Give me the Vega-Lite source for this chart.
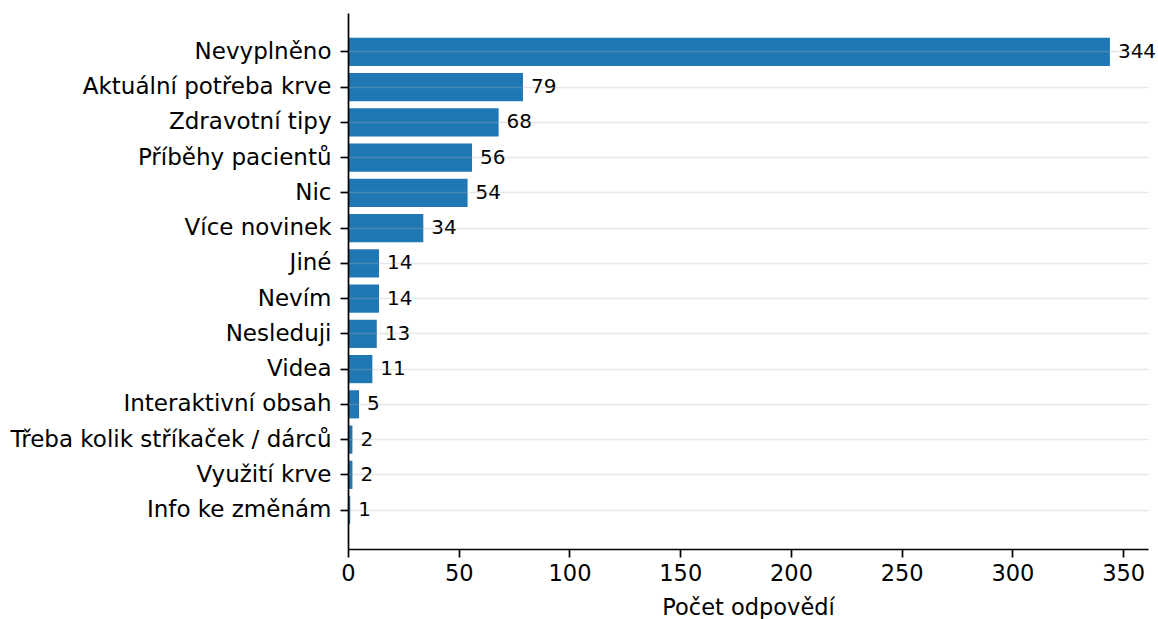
{
  "$schema": "https://vega.github.io/schema/vega-lite/v6.json",
  "autosize": {"type": "none"},
  "padding": {"left": 348, "top": 13, "right": 10, "bottom": 70},
  "width": 800,
  "height": 536,
  "background": "white",
  "config": {
    "view": {"stroke": null},
    "font": "DejaVu Sans",
    "axis": {"domainColor": "#000000", "tickColor": "#000000", "labelColor": "#000000", "titleColor": "#000000", "labelFont": "DejaVu Sans", "titleFont": "DejaVu Sans", "titleFontWeight": "normal", "domainWidth": 1.7, "tickWidth": 1.7}
  },
  "data": {
    "values": [
      {"kategorie": "Nevyplněno", "pocet": 344},
      {"kategorie": "Aktuální potřeba krve", "pocet": 79},
      {"kategorie": "Zdravotní tipy", "pocet": 68},
      {"kategorie": "Příběhy pacientů", "pocet": 56},
      {"kategorie": "Nic", "pocet": 54},
      {"kategorie": "Více novinek", "pocet": 34},
      {"kategorie": "Jiné", "pocet": 14},
      {"kategorie": "Nevím", "pocet": 14},
      {"kategorie": "Nesleduji", "pocet": 13},
      {"kategorie": "Videa", "pocet": 11},
      {"kategorie": "Interaktivní obsah", "pocet": 5},
      {"kategorie": "Třeba kolik stříkaček / dárců", "pocet": 2},
      {"kategorie": "Využití krve", "pocet": 2},
      {"kategorie": "Info ke změnám", "pocet": 1}
    ]
  },
  "encoding": {
    "y": {
      "field": "kategorie",
      "type": "nominal",
      "sort": null,
      "scale": {"paddingInner": 0.2, "paddingOuter": 0.705},
      "axis": {"title": null, "labelFontSize": 23, "labelPadding": 9, "tickSize": 8, "grid": true, "gridColor": "#b0b0b0", "gridOpacity": 0.3, "gridWidth": 1.6, "zindex": 1, "labelLimit": 400}
    },
    "x": {
      "field": "pocet",
      "type": "quantitative",
      "scale": {"domain": [0, 361.2], "nice": false},
      "axis": {"title": "Počet odpovědí", "titleFontSize": 22.5, "titlePadding": 12, "labelFontSize": 22.5, "labelPadding": 5, "tickSize": 8, "values": [0, 50, 100, 150, 200, 250, 300, 350], "grid": false, "labelFlush": false}
    }
  },
  "layer": [
    {"mark": {"type": "bar", "color": "#1f77b4"}},
    {"mark": {"type": "text", "align": "left", "baseline": "middle", "dx": 8, "fontSize": 20, "color": "#000000"}, "encoding": {"text": {"field": "pocet", "type": "quantitative"}}}
  ]
}
